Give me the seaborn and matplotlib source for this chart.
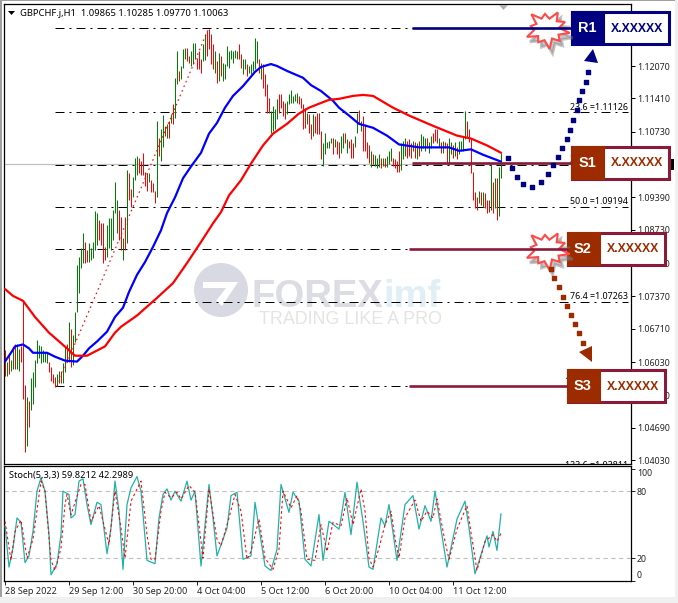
import numpy as np
import pandas as pd
import matplotlib
matplotlib.use('Agg')
import matplotlib.pyplot as plt
import seaborn as sns
from matplotlib.patches import Rectangle, Polygon, Circle

# price bars, in pips above 1.0000, one value per H1 bar
highs = [
    628,604,618,608,633,639,639,629,635,728,
    557,531,523,570,582,608,649,637,635,628,
    624,624,604,592,578,572,578,584,584,602,
    633,639,685,671,659,706,801,817,836,866,
    848,831,846,836,848,911,907,892,886,886,
    838,882,896,896,913,970,933,913,898,856,
    898,994,988,957,980,1020,1024,1020,1014,1030,
    990,988,988,974,968,953,1095,1061,1079,1108,
    1085,1089,1095,1110,1130,1183,1238,1197,1207,1242,
    1244,1244,1227,1237,1254,1254,1223,1237,1221,1252,
    1272,1278,1282,1272,1252,1237,1217,1233,1227,1213,
    1211,1248,1237,1240,1237,1240,1237,1252,1231,1221,
    1221,1211,1207,1211,1217,1264,1258,1221,1213,1211,
    1191,1171,1142,1116,1126,1120,1140,1150,1150,1136,
    1132,1136,1150,1158,1146,1150,1152,1146,1142,1130,
    1122,1112,1110,1089,1110,1106,1112,1112,1075,1049,
    1071,1051,1055,1061,1061,1059,1055,1051,1065,1071,
    1071,1059,1055,1059,1049,1065,1112,1118,1095,1106,
    1089,1051,1045,1034,1028,1026,1020,1028,1020,1020,
    1020,1024,1034,1039,1020,1018,1014,1034,1049,1055,
    1061,1055,1059,1049,1055,1051,1049,1055,1069,1065,
    1061,1061,1051,1065,1071,1079,1079,1061,1051,1055,
    1051,1049,1061,1051,1045,1051,1041,1055,1055,1065,
    1116,1095,1079,1061,990,949,939,953,949,949,
    947,933,933,1008,970,978,978,1000,1030]
lows = [
    574,574,578,584,588,588,588,584,604,527,
    419,432,470,505,517,553,602,612,602,604,
    604,602,582,564,561,553,555,561,561,561,
    582,604,604,594,598,643,706,744,795,805,
    805,807,807,811,815,831,842,852,842,805,
    811,817,836,831,852,907,866,852,831,811,
    831,846,933,919,939,974,984,988,984,984,
    963,953,970,949,949,927,939,1024,1014,1041,
    1065,1061,1061,1091,1089,1101,1171,1177,1181,1203,
    1221,1217,1213,1207,1211,1221,1201,1201,1193,1217,
    1219,1227,1242,1211,1201,1193,1173,1177,1187,1177,
    1181,1207,1203,1221,1213,1223,1221,1221,1203,1191,
    1201,1187,1193,1191,1197,1201,1213,1193,1181,1162,
    1146,1112,1112,1071,1075,1079,1099,1112,1122,1106,
    1099,1110,1130,1132,1132,1136,1132,1130,1122,1079,
    1081,1089,1071,1059,1065,1071,1069,1069,1018,1004,
    1028,1039,1039,1049,1028,1041,1028,1020,1030,1039,
    1049,1030,1039,1020,1020,1041,1071,1091,1075,1034,
    1034,1020,1010,1000,1008,1004,998,1000,998,1004,
    1000,1000,1008,1014,1004,998,990,990,994,1018,
    1024,1020,1024,1020,1034,1020,1018,1024,1034,1039,
    1034,1039,1030,1039,1049,1055,1049,1041,1030,1030,
    1039,1008,1008,1028,1020,1024,1018,1028,1034,1034,
    1059,1061,1051,988,933,917,913,927,923,919,
    917,907,909,913,907,917,892,900,978]
bar_dirs = ('rgrggrggrr' 'rgrggggggg' 'ggrrrrggrg' 'grgrgggggg' 'rrgggggrrr'
            'rggggggrrg' 'rgrrgggrrr' 'rrgrrrgrgg' 'rgrgrggrgg' 'grrgggrrrg'
            'grrrrgrgrg' 'gggggggrrg' 'grgggggrgr' 'rrrggggrrr' 'rggggggrrr'
            'rgrrgrrrrg' 'ggggrgrrgg' 'rgrrrggrgr' 'rrrgrgggrg' 'rgggrrrrgg'
            'grrrgrgrgg' 'grggrrrgrg' 'rrggrgrggg' 'grrrrrrgrg' 'rrrgrgrgg')

# moving averages, read at the bends
blue_idx = [0,3,5,9,12,14,21,25,30,36,39,42,46,51,55,59,62,66,70,74,78,81,85,89,93,98,102,106,110,114,
            119,125,128,133,136,141,149,153,158,164,167,172,177,184,191,197,207,222,227,233,239,248]
blue_pips = [604,622,635,639,631,622,622,614,606,604,616,631,645,665,695,714,746,781,807,838,872,907,939,978,
             1002,1030,1069,1091,1122,1146,1166,1195,1205,1211,1207,1197,1183,1168,1156,1136,1122,1106,1089,
             1081,1065,1047,1041,1041,1034,1037,1026,1012]
red_idx = [0,4,9,15,22,31,35,41,50,55,58,66,71,76,84,91,98,104,108,112,118,123,129,134,141,147,152,157,162,
           167,174,179,184,194,202,214,226,233,241,248]
red_pips = [752,738,728,695,663,631,616,616,635,663,675,698,716,734,764,805,848,886,909,943,974,1008,1045,
            1069,1089,1110,1122,1130,1138,1140,1146,1148,1146,1122,1106,1085,1065,1059,1045,1030]

# stochastic, read at the turning points
stoch_idx = [0,2,4,6,8,10,12,14,16,18,20,22,23,26,28,29,32,33,35,37,39,41,43,46,48,51,53,55,57,59,61,63,66,68,
             71,75,77,79,81,83,85,88,91,93,95,98,102,104,106,111,113,116,119,123,125,130,133,136,138,142,144,
             147,150,153,157,159,162,167,168,170,173,176,179,182,184,188,190,192,196,200,204,207,210,213,215,
             221,226,230,232,235,241,242,244,246,248]
stoch_main = [49,12,29,56,52,16,22,44,80,92,80,41,5,15,41,80,77,56,59,89,91,68,50,70,68,24,47,89,62,10,68,83,93,80,
              18,15,56,77,82,72,80,71,89,72,80,13,86,56,22,47,76,79,19,22,70,13,9,28,86,61,79,
              71,19,13,59,18,53,46,56,79,41,88,53,12,10,56,49,68,18,68,76,46,67,53,80,
              12,55,71,47,6,40,30,44,27,59.8]
signal_idx = [0,3,5,8,11,14,18,20,23,25,28,30,31,33,38,40,43,47,52,55,58,60,63,68,71,73,75,78,80,83,86,88,92,95,
              99,102,106,108,112,115,118,121,123,127,130,134,137,139,143,146,148,151,155,158,161,164,168,
              171,174,178,180,182,184,187,190,193,195,197,200,205,208,211,214,216,220,222,226,231,233,236,240,244,246,248]
signal_line = [53,18,44,54,20,37,89,80,18,9,29,68,77,59,86,86,53,67,32,80,47,20,71,89,41,19,19,62,79,74,79,73,85,79,
               20,82,37,31,56,77,62,19,26,55,20,10,28,80,65,76,62,19,18,50,26,52,49,
               74,50,82,62,20,12,29,50,62,38,20,56,72,53,62,56,73,35,19,46,67,43,9,35,41,35,42.3]

# fibonacci retracement
fib_names = ['0.0','23.6','38.2','50.0','61.8','76.4','100.0','123.6']
fib_prices = [1.12853,1.11126,1.10058,1.09194,1.08330,1.07263,1.05537,1.03811]
fib_hidden = ['0.0','61.8']  # these labels sit fully behind the R1 and S2 tags
fib_start = 25
fib_end = 311.5
fib_low_idx = 26
fib_high_idx = 102

last_close = 1.10063
price_ticks = [1.12070,1.11410,1.10730,1.09390,1.08730,1.08050,1.07370,1.06710,1.06030,1.05350,1.04690,1.04030]
stoch_ticks = [0,20,80,100]
date_idx = [0,32,64,96,128,160,192,224]
date_labels = ['28 Sep 2022','29 Sep 12:00','30 Sep 20:00','4 Oct 04:00','5 Oct 12:00','6 Oct 20:00','10 Oct 04:00','11 Oct 12:00']

sns.set_style('white')
plt.rcParams['font.family'] = ['Noto Sans', 'DejaVu Sans']
W, H = 678, 603
TXT = 6.4
fig = plt.figure(figsize=(W/100, H/100), dpi=100, facecolor='white')

ax = fig.add_axes([4/W, 1-464/H, 626.5/W, 460/H])
sub = fig.add_axes([4/W, 1-580.5/H, 626.5/W, 114.5/H])
top = fig.add_axes([0, 0, 1, 1], zorder=10)
top.set_xlim(0, W)
top.set_ylim(H, 0)
top.axis('off')
top.patch.set_alpha(0)

# window edges
for r in [(0,0,1.5,H,'#a0a0a0'), (0,0,W,1,'#a0a0a0'), (0,597,W,6,'#f0f0f0'), (675,0,3,H,'#f0f0f0')]:
    fig.patches.append(Rectangle(r[:2], r[2], r[3], color=r[4], lw=0, transform=top.transData, figure=fig))

# watermark, under the bars
wm = top.transData
ax.add_patch(Circle((221, 290), 27, color='#d9d9e3', lw=0, transform=wm, zorder=0))
ax.add_patch(Polygon([(203,282),(238,282),(222,306),(216,301),(226,288),(203,288)], color='white', lw=0, transform=wm, zorder=0))
ax.text(251, 307, 'FOREX', transform=wm, family='Liberation Sans', weight='bold', fontsize=27.5, color='#dcdce4', zorder=0)
ax.text(383, 307, 'imf', transform=wm, family='Liberation Sans', weight='bold', fontsize=27.5, color='#e0eef5', zorder=0)
ax.text(259, 323.5, 'TRADING LIKE A PRO', transform=wm, family='Liberation Sans', fontsize=12.9, color='#e4e4e4', zorder=0)

idx = np.arange(len(highs))
px = 1.0 + np.array(highs)/1e4
pn = 1.0 + np.array(lows)/1e4
cols = ['#008000' if c == 'g' else '#ff0000' for c in bar_dirs]
ax.axhline(last_close, color='#c0c0c0', lw=0.9, zorder=1)
for name, p in zip(fib_names, fib_prices):
    ax.plot([fib_start, fib_end], [p, p], color='black', lw=0.72, ls=(0, (9, 5, 2, 5)), zorder=1.5)
    if name not in fib_hidden:
        ax.annotate(name+' =%.5f' % p, (fib_end, p), xytext=(0, 0.5), textcoords='offset points', ha='right', va='bottom',
                    fontsize=TXT, color='black', annotation_clip=False, clip_on=True, zorder=1.5)
ax.vlines(idx, pn, px, colors=cols, lw=0.72, zorder=2)
ax.plot([fib_low_idx, fib_high_idx], [fib_prices[6], fib_prices[0]], color='#ff0000', lw=0.8, ls=(0, (1.5, 3)), zorder=2.2)

blue = pd.DataFrame({'bar': blue_idx, 'price': 1.0 + np.array(blue_pips)/1e4})
red = pd.DataFrame({'bar': red_idx, 'price': 1.0 + np.array(red_pips)/1e4})
sns.lineplot(data=blue, x='bar', y='price', ax=ax, color='#0000ff', lw=1.6, estimator=None, zorder=3)
sns.lineplot(data=red, x='bar', y='price', ax=ax, color='#ff0000', lw=1.6, estimator=None, zorder=3)

ax.set_xlim(-0.5, 312.75)
ax.set_ylim(1.03951, 1.13335)
ax.set_xlabel('')
ax.set_ylabel('')
ax.set_xticks([])
ax.yaxis.tick_right()
ax.set_yticks(price_ticks)
ax.set_yticklabels(['%.5f' % t for t in price_ticks], fontsize=TXT)
ax.tick_params(axis='y', direction='out', length=3, width=0.72, pad=1.5, color='black', right=True, left=False)

# stochastic panel
for lv in [20, 80]:
    sub.axhline(lv, color='#c0c0c0', lw=0.8, ls=(0, (4, 3)), zorder=1)
sns.lineplot(x=stoch_idx, y=stoch_main, ax=sub, color='#20b2aa', lw=0.9, estimator=None, zorder=3)
sns.lineplot(x=signal_idx, y=signal_line, ax=sub, color='#ff0000', lw=0.75, estimator=None, linestyle=(0, (2.5, 2.5)), zorder=4)
sub.set_xlim(-0.5, 312.75)
sub.set_ylim(0, 102.5)
sub.yaxis.tick_right()
sub.set_yticks(stoch_ticks)
sub.set_yticklabels([str(s) for s in stoch_ticks], fontsize=TXT)
sub.get_yticklabels()[0].set_va('bottom')
sub.get_yticklabels()[3].set_va('top')
sub.set_xticks(date_idx)
sub.set_xticklabels(date_labels, fontsize=6.55, ha='left')
sub.tick_params(axis='y', direction='out', length=3, width=0.72, pad=1.5, right=True, left=False)
sub.tick_params(axis='x', direction='out', length=3, width=0.72, pad=1.5, bottom=True)
sub.set_xlabel('')
sub.set_ylabel('')
for a in (ax, sub):
    for s in a.spines.values():
        s.set_visible(True)
        s.set_color('black')
        s.set_linewidth(0.9)

# header texts
top.add_patch(Polygon([(8,11),(15,11),(11.5,15)], color='black', lw=0))
top.text(20, 13, 'GBPCHF.j,H1  1.09865 1.10285 1.09770 1.10063', fontsize=6.75, va='center', color='black')
top.text(9, 475.5, 'Stoch(5,3,3) 59.8212 42.2989', fontsize=6.6, va='center', color='black')
top.add_patch(Polygon([(499,5),(508,5),(503.5,10)], color='#b0b0b0', lw=0))
top.add_patch(Rectangle((670,159), 3.5, 11, color='black', lw=0))

NAVY = '#000080'
RUST = '#9c2c00'
MAROON = '#8b1a3a'

def level_box(x, y, name, dark, edge, line_from):
    # support/resistance tag with the level line running into it
    top.plot([line_from, x], [y+16, y+16], color=edge, lw=1.9, solid_capstyle='butt')
    top.add_patch(Rectangle((x, y), 97, 32, facecolor='white', edgecolor=edge, lw=2.2))
    top.add_patch(Rectangle((x, y), 32, 32, facecolor=dark, edgecolor=dark, lw=1.5))
    top.text(x+15, y+16, name, color='white', family='Liberation Sans', weight='bold', fontsize=10.5, ha='center', va='center')
    top.text(x+65, y+16.5, 'X.XXXXX', color=dark, family='Liberation Sans', weight='bold', fontsize=8.8, ha='center', va='center')

level_box(572, 12, 'R1', NAVY, NAVY, 412)
level_box(572, 147, 'S1', RUST, MAROON, 412)
level_box(568, 233, 'S2', RUST, MAROON, 409)
level_box(568, 370, 'S3', RUST, MAROON, 409)

def burst(cx, cy):
    radii = [21, 12, 17, 11, 21, 12, 16, 11, 20, 12, 15, 11, 21, 12, 16, 11, 20, 12, 18, 11]
    ang = np.linspace(0, 2*np.pi, len(radii), endpoint=False) + 0.2
    pts = np.c_[cx + np.array(radii)*np.cos(ang)*1.1, cy + np.array(radii)*np.sin(ang)*0.95]
    top.add_patch(Polygon(pts + [3, 5], color='#808080', alpha=0.45, lw=2))
    top.add_patch(Polygon(pts, facecolor='white', edgecolor='#ff4a4a', lw=1.5))

burst(547, 29)
burst(547, 250)

# hand drawn dotted arrows
up_dots = [(508,158),(512,168),(517,177),(523,184),(532,187),(541,182),(548,174),(553,165),(558,157),(562,148),
           (567,139),(570,130),(573,120),(577,110),(579,100),(582,91),(586,82),(588,72)]
down_dots = [(551,269),(554,278),(559,287),(563,297),(567,306),(571,315),(575,324),(579,333),(583,343)]
top.scatter(*zip(*up_dots), marker='s', s=9, color=NAVY, zorder=6)
top.add_patch(Polygon([(584,61),(598,63),(593,49)], color=NAVY, lw=0, zorder=6))
top.scatter(*zip(*down_dots), marker='s', s=9, color=RUST, zorder=6)
top.add_patch(Polygon([(579,352),(592,346),(592,362)], color=RUST, lw=0, zorder=6))

fig.savefig('out.png', dpi=100)
